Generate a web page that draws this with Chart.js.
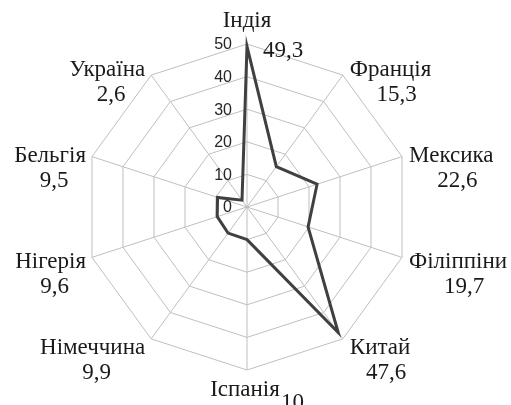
<!DOCTYPE html>
<html>
<head>
<meta charset="utf-8">
<script src="https://cdn.jsdelivr.net/npm/chart.js@4"></script>
<style>
html,body{margin:0;padding:0;background:#fff;}
#wrap{width:511px;height:405px;position:relative;}
</style>
</head>
<body>
<div id="wrap"><canvas id="c"></canvas></div>
<script>
const categories = ['Індія','Франція','Мексика','Філіппіни','Китай','Іспанія','Німеччина','Нігерія','Бельгія','Україна'];
const values = [49.3, 15.3, 22.6, 19.7, 47.6, 10, 9.9, 9.6, 9.5, 2.6];
const valueLabels = ['49,3','15,3','22,6','19,7','47,6','10','9,9','9,6','9,5','2,6'];
const tickValues = [0, 10, 20, 30, 40, 50];

const labelFont = '23px "Liberation Serif", "Times New Roman", serif';
const tickFont = '16px "Liberation Sans", Arial, sans-serif';

const labelPlugin = {
  id: 'customLabels',
  afterDraw(chart) {
    const scale = chart.scales.r;
    const ctx = chart.ctx;
    ctx.save();
    // tick labels
    ctx.font = tickFont;
    ctx.fillStyle = '#262626';
    ctx.textAlign = 'right';
    ctx.textBaseline = 'middle';
    scale.ticks.forEach(t => {
      const d = scale.getDistanceFromCenterForValue(t.value);
      ctx.fillText(t.label, scale.xCenter - 15, scale.yCenter - d + 1);
    });
    // point labels
    ctx.font = labelFont;
    ctx.fillStyle = '#1a1a1a';
    ctx.textBaseline = 'middle';
    categories.forEach((name, i) => {
      const ang = scale.getIndexAngle(i);
      const deg = Math.round(ang * 180 / Math.PI) % 360;
      const p = scale.getPointPosition(i, scale.drawingArea);
      const val = valueLabels[i];
      if (deg === 0) {
        ctx.textAlign = 'center';
        ctx.fillText(name, p.x, p.y - 23);
        ctx.textAlign = 'left';
        ctx.fillText(val, p.x + 16, p.y + 7);
      } else if (deg === 180) {
        ctx.textAlign = 'center';
        ctx.fillText(name, p.x - 2, p.y + 20);
        ctx.textAlign = 'left';
        ctx.fillText(val, p.x + 34, p.y + 33);
      } else {
        const right = deg < 180;
        const w = ctx.measureText(name).width;
        const ny = p.y + 2 - 9 * Math.cos(ang);
        const nx = right ? p.x + 7 : p.x - 6;
        ctx.textAlign = right ? 'left' : 'right';
        ctx.fillText(name, nx, ny);
        const mid = right ? nx + w / 2 : nx - w / 2;
        ctx.textAlign = 'center';
        ctx.fillText(val, mid + (right ? 6 : 4), ny + 25);
      }
    });
    ctx.restore();
  }
};

new Chart(document.getElementById('c'), {
  type: 'radar',
  data: {
    labels: categories,
    datasets: [{
      data: values,
      borderColor: '#404040',
      borderWidth: 3,
      fill: false,
      pointRadius: 0,
      pointHoverRadius: 0,
      tension: 0
    }]
  },
  options: {
    responsive: true,
    maintainAspectRatio: false,
    animation: false,
    events: [],
    layout: { padding: { top: 44, bottom: 35, left: 84, right: 101 } },
    plugins: { legend: { display: false }, tooltip: { enabled: false } },
    scales: {
      r: {
        min: 0,
        max: 50,
        ticks: { stepSize: 10, display: false },
        afterBuildTicks(s) { s.ticks = tickValues.map(v => ({ value: v, label: String(v) })); },
        grid: { color: '#bfbfbf', lineWidth: 1, circular: false },
        angleLines: { color: '#bfbfbf', lineWidth: 1 },
        pointLabels: { display: false }
      }
    }
  },
  plugins: [labelPlugin]
});
</script>
</body>
</html>
